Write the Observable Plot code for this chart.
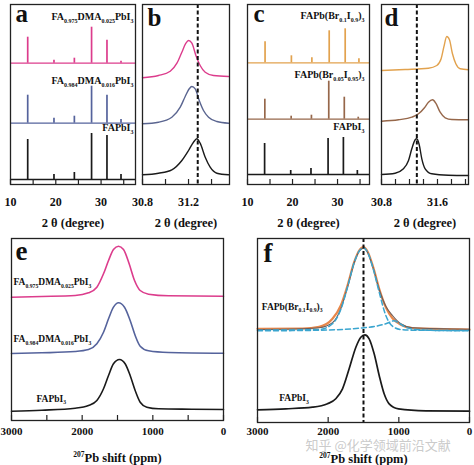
<!DOCTYPE html>
<html><head><meta charset="utf-8">
<script src="https://cdn.jsdelivr.net/npm/d3@7"></script>
<script src="https://cdn.jsdelivr.net/npm/@observablehq/plot@0.6"></script>
<style>
html,body{margin:0;padding:0;background:#fff;}
#fig{position:relative;width:474px;height:465px;overflow:hidden;background:#fff;}
#fig svg{position:absolute;left:0;top:0;}
</style></head><body><div id="fig"></div>
<script>
// ================= DATA =================
// Panel a – XRD, FA/DMA series (2θ in degrees, intensity in arbitrary units)
const aLabels = ["FA_{0.975}DMA_{0.025}PbI_{3}", "FA_{0.984}DMA_{0.016}PbI_{3}", "FAPbI_{3}"];
const aPeakPos = [13.8, 19.6, 24.1, 27.9, 31.3, 34.4];
const aHeightTop = [26, 3, 5, 36, 23, 2];
const aHeightMid = [28, 5, 7, 37, 28, 3.7];
const aHeightBot = [40, 5, 7, 46, 44, 5];
const aBaselines = [121.3, 61.3, 5];

// Panel b – zoom of the (~31.3°) peak, FA/DMA series
const bTopX = [30.80, 30.939, 31.041, 31.099, 31.142, 31.177, 31.200, 31.229, 31.264, 31.301, 31.345, 31.417, 31.548];
const bTopY = [106.7, 109, 113.3, 121.3, 132.3, 141.3, 144, 141.3, 129, 119, 112.3, 109, 108];
const bMidX = [30.80, 30.939, 31.055, 31.128, 31.171, 31.206, 31.229, 31.258, 31.293, 31.330, 31.374, 31.446, 31.548];
const bMidY = [60.7, 62.3, 67.3, 77.3, 88, 95.7, 98, 95.7, 84, 74, 67.3, 63, 61.3];
const bBotX = [30.80, 30.939, 31.055, 31.142, 31.200, 31.243, 31.272, 31.301, 31.345, 31.388, 31.446, 31.548];
const bBotY = [9.7, 11.3, 14.7, 24, 34, 42.3, 45.7, 41.3, 27.3, 17.3, 11.3, 9.7];
const bRef = [31.28];

// Panel c – XRD, Br series
const cLabels = ["FAPb(Br_{0.1}I_{0.9})_{3}", "FAPb(Br_{0.05}I_{0.95})_{3}", "FAPbI_{3}"];
const cPeakPosTop = [13.9, 19.75, 24.3, 28.15, 31.7, 34.75];
const cPeakPosMid = [13.85, 19.7, 24.2, 28.05, 31.5, 34.6];
const cPeakPosBot = [13.8, 19.6, 24.1, 27.9, 31.3, 34.4];
const cHeightTop = [21, 7, 5, 32, 34, 4];
const cHeightMid = [20, 3, 4, 38, 22, 2];
const cHeightBot = [31, 4, 6, 36, 37, 4];
const cBaselines = [121.7, 65.3, 10];

// Panel d – zoom of the (~31.3°) peak, Br series
const dTopX = [30.80, 31.138, 31.471, 31.590, 31.652, 31.690, 31.733, 31.771, 31.814, 31.862, 31.924, 32.043];
const dTopY = [114, 115, 116.3, 119, 125.7, 137.3, 148, 144.7, 130.7, 120.7, 115.7, 114.7];
const dMidX = [30.80, 31.043, 31.233, 31.329, 31.414, 31.471, 31.529, 31.576, 31.638, 31.710, 31.805, 32.043];
const dMidY = [63.3, 64.7, 67.3, 70.7, 76.7, 82.3, 84.7, 81.3, 72.3, 66.7, 65, 64.7];
const dBotX = [30.80, 30.995, 31.114, 31.186, 31.233, 31.281, 31.305, 31.338, 31.376, 31.424, 31.519, 31.757, 32.043];
const dBotY = [10, 11.3, 15.7, 24, 35.7, 44.7, 45.7, 40, 25.7, 15.7, 10.7, 9.3, 9];
const dRef = [31.305];

// Panel e – 207Pb NMR, FA/DMA series (ppm)
const eTopX = [3000, 2571, 2099, 1910, 1792, 1698, 1627, 1557, 1486, 1415, 1335, 1259, 1179, 1061, 778, 0];
const eTopY = [123.3, 124, 125, 127.7, 133.3, 146.7, 160, 171, 174.3, 171, 156.7, 140, 130, 126.3, 124.7, 124.3];
const eMidX = [3000, 2571, 2099, 1910, 1792, 1698, 1627, 1557, 1486, 1401, 1321, 1250, 1179, 1061, 778, 0];
const eMidY = [67, 67.7, 69, 71, 76.7, 88.3, 101.7, 113.3, 117.7, 113.3, 100, 85, 74.3, 69.7, 68, 67.3];
const eBotX = [3000, 2571, 2099, 1910, 1792, 1698, 1627, 1557, 1472, 1392, 1321, 1250, 1179, 1085, 920, 448, 0];
const eBotY = [9.3, 10.3, 12.3, 15, 20, 31.7, 45, 56.7, 61, 56.7, 45, 30, 18.3, 13.3, 11.7, 11.3, 11];

// Panel f – 207Pb NMR, Br series with fit components (ppm)
const fLabels = ["FAPb(Br_{0.1}I_{0.9})_{3}", "FAPbI_{3}"];
const fFitX = [3000, 2363, 2127, 1939, 1821, 1726, 1632, 1561, 1500, 1443, 1363, 1278, 1184, 1090, 972, 807, 0];
const fFitY = [93.7, 94, 95.7, 103.7, 117, 137, 160.3, 172, 175.3, 171, 155.3, 133.7, 115.3, 104.3, 97.7, 94.3, 93];
const fMeasY = [93, 93.7, 94.7, 99.7, 113.7, 135.3, 159.7, 171.3, 174.3, 170.3, 154.3, 133, 116.3, 107, 98.7, 94.7, 93.3];
const fComp1X = [3000, 2127, 1939, 1821, 1726, 1632, 1561, 1500, 1443, 1363, 1278, 1184, 1090, 972, 807, 0];
const fComp1Y = [92.3, 93, 98.7, 113, 135.3, 159.7, 171.3, 174.7, 170.3, 153.7, 130.3, 107, 96.3, 93, 92.3, 92];
const fComp2X = [3000, 2363, 1892, 1561, 1325, 1184, 1066, 1005, 901, 759, 429, 0];
const fComp2Y = [91.7, 92, 92.7, 94.3, 96.3, 98.7, 101.7, 99.7, 95.3, 93, 92, 91.7];
const fBotX = [3000, 2599, 2222, 2009, 1892, 1797, 1703, 1608, 1538, 1481, 1420, 1349, 1278, 1208, 1137, 1005, 618, 0];
const fBotY = [12.7, 13.7, 15.3, 18.7, 23.7, 33.7, 53.7, 75.3, 85.3, 87.7, 83.7, 68.7, 47, 28.7, 18.7, 13.7, 11.7, 11.3];
const fRef = [1500];

// Axis ticks
const xrdTicks = [10, 15, 20, 25, 30, 35];
const xrdTickLabels = [10, 20, 30];
const bTicks = [30.8, 31.0, 31.2, 31.4];
const bTickLabels = [30.8, 31.2];
const dTicks = [30.8, 31.0, 31.2, 31.4, 31.6, 31.8, 32.0];
const dTickLabels = [30.8, 31.6];
const eTicks = [3000, 2500, 2000, 1500, 1000, 500, 0];
const fTicks = [3000, 2000, 1000, 0];
const nmrTickLabels = [3000, 2000, 1000, 0];
const xrdTitle = "2 θ (degree)";
const nmrTitle = "^{207}Pb shift (ppm)";
const watermark = "知乎 @化学领域前沿文献";

// ================= STYLE =================
const FONT = "'Liberation Serif', 'Times New Roman', serif";
const PINK = "#dc3c8c", BLUE = "#55639c", BLACK = "#1a1a1a";
const ORANGE_T = "#e2a24e", BROWN = "#96674a";

// ================= HELPERS =================
function richify(svg) {
  svg.querySelectorAll("text").forEach(t => {
    const s = t.textContent;
    if (!/[_^]\{/.test(s)) return;
    const fs = parseFloat(getComputedStyle(t).fontSize) || 10;
    const parts = [];
    const re = /([_^])\{([^}]*)\}|([^_^]+)/g;
    let m;
    while ((m = re.exec(s))) parts.push(m[3] != null ? {t: m[3], k: 0} : {t: m[2], k: m[1] === "_" ? 1 : -1});
    t.textContent = "";
    let shift = 0;
    for (const p of parts) {
      const ts = document.createElementNS("http://www.w3.org/2000/svg", "tspan");
      const target = p.k === 1 ? fs * 0.3 : p.k === -1 ? -fs * 0.4 : 0;
      ts.setAttribute("dy", (target - shift).toFixed(2));
      if (p.k) ts.setAttribute("font-size", (fs * 0.6).toFixed(2));
      shift = target;
      ts.textContent = p.t;
      t.appendChild(ts);
    }
  });
}

function render({L, R, T, B, xDomain, yDomain, marks}) {
  const svg = Plot.plot({
    width: 474, height: 465,
    marginLeft: L, marginRight: 474 - R, marginTop: T, marginBottom: 465 - B,
    x: {domain: xDomain},
    y: {domain: yDomain, axis: null},
    style: {background: "transparent", overflow: "visible", fontFamily: FONT, fontWeight: "bold", color: "#111"},
    marks
  });
  document.getElementById("fig").appendChild(svg);
  richify(svg);
}

function xAxis(ticks, labels, fmt, pad, fs, innerH) {
  return [
    Plot.ruleX(ticks, {x: d => d, insetTop: innerH - 5, stroke: "#222", strokeWidth: 1.2}),
    Plot.axisX({ticks: labels, tickSize: 0, tickPadding: pad, tickFormat: fmt, fontSize: fs, label: null})
  ];
}

function xrd(domain, baseline, pos, heights, color) {
  const peaks = pos.map((p, i) => ({x: p, y1: baseline, y2: baseline + heights[i]}));
  return [
    Plot.ruleY([baseline], {x1: domain[0], x2: domain[1], stroke: color, strokeWidth: 1.3}),
    Plot.ruleX(peaks, {x: "x", y1: "y1", y2: "y2", stroke: color, strokeWidth: 1.7})
  ];
}

function curve(xs, ys, color, opts = {}) {
  return Plot.line(xs.map((x, i) => ({x, y: ys[i]})), {x: "x", y: "y", stroke: color, strokeWidth: 1.4, curve: "monotone-x", ...opts});
}

function label(text, anchor, dx, dy, opts = {}) {
  return Plot.text([text], {frameAnchor: anchor, dx, dy, text: d => d, lineAnchor: "middle",
    textAnchor: anchor.endsWith("right") ? "end" : anchor.endsWith("left") ? "start" : "middle",
    fontSize: 10, fill: "#111", ...opts});
}

const frame = () => Plot.frame({stroke: "#222", strokeWidth: 1.3});
const fmtInt = d => String(d);
const fmt1 = d => d.toFixed(1);

// ================= PANEL a =================
const aDom = [10, 37.6];
render({L: 10, R: 135, T: 4, B: 184, xDomain: aDom, yDomain: [0, 180], marks: [
  ...xrd(aDom, aBaselines[0], aPeakPos, aHeightTop, PINK),
  ...xrd(aDom, aBaselines[1], aPeakPos, aHeightMid, BLUE),
  ...xrd(aDom, aBaselines[2], aPeakPos, aHeightBot, BLACK),
  frame(),
  ...xAxis(xrdTicks, xrdTickLabels, fmtInt, 13, 12, 180),
  label("a", "top-left", 5, 9, {fontSize: 25}),
  label(aLabels[0], "top-right", -2, 12.7),
  label(aLabels[1], "top-right", -2, 76),
  label(aLabels[2], "top-right", -2, 123.7),
  label(xrdTitle, "bottom", 0, 38, {fontSize: 12.5})
]});

// ================= PANEL b =================
render({L: 142, R: 229, T: 4, B: 184, xDomain: [30.8, 31.556], yDomain: [0, 180], marks: [
  curve(bTopX, bTopY, PINK),
  curve(bMidX, bMidY, "#5a6590"),
  curve(bBotX, bBotY, BLACK),
  Plot.ruleX(bRef, {stroke: "#111", strokeWidth: 2, strokeDasharray: "4,2.5"}),
  frame(),
  ...xAxis(bTicks, bTickLabels, fmt1, 13, 12, 180),
  label("b", "top-left", 5, 13, {fontSize: 25}),
  label(xrdTitle, "bottom", 0, 38, {fontSize: 12.5})
]});

// ================= PANEL c =================
const cDom = [10, 37.1];
render({L: 247, R: 369, T: 4, B: 184, xDomain: cDom, yDomain: [0, 180], marks: [
  ...xrd(cDom, cBaselines[0], cPeakPosTop, cHeightTop, ORANGE_T),
  ...xrd(cDom, cBaselines[1], cPeakPosMid, cHeightMid, BROWN),
  ...xrd(cDom, cBaselines[2], cPeakPosBot, cHeightBot, BLACK),
  frame(),
  ...xAxis(xrdTicks, xrdTickLabels, fmtInt, 13, 12, 180),
  label("c", "top-left", 6, 9.5, {fontSize: 25}),
  label(cLabels[0], "top-right", -5, 11),
  label(cLabels[1], "top-right", -5, 70),
  label(cLabels[2], "top-right", -5, 122),
  label(xrdTitle, "bottom", 0, 38, {fontSize: 12.5})
]});

// ================= PANEL d =================
render({L: 381, R: 468, T: 4, B: 184, xDomain: [30.8, 32.043], yDomain: [0, 180], marks: [
  curve(dTopX, dTopY, ORANGE_T),
  curve(dMidX, dMidY, BROWN),
  curve(dBotX, dBotY, BLACK),
  Plot.ruleX(dRef, {stroke: "#111", strokeWidth: 2, strokeDasharray: "4,2.5"}),
  frame(),
  ...xAxis(dTicks, dTickLabels, fmt1, 13, 12, 180),
  label("d", "top-left", 3, 13.5, {fontSize: 25}),
  label(xrdTitle, "bottom", 0, 38, {fontSize: 12.5})
]});

// ================= PANEL e =================
render({L: 11, R: 223, T: 238, B: 420, xDomain: [3000, 0], yDomain: [0, 182], marks: [
  curve(eTopX, eTopY, PINK, {strokeWidth: 1.6}),
  curve(eMidX, eMidY, BLUE, {strokeWidth: 1.6}),
  curve(eBotX, eBotY, BLACK, {strokeWidth: 1.6}),
  frame(),
  ...xAxis(eTicks, nmrTickLabels, fmtInt, 7, 11, 182),
  label("e", "top-left", 4, 13, {fontSize: 27}),
  label(aLabels[0], "top-left", 2, 43.7, {fontSize: 9.5}),
  label(aLabels[1], "top-left", 2, 100.3, {fontSize: 9.5}),
  label(aLabels[2], "top-left", 25, 160, {fontSize: 9.5}),
  label(nmrTitle, "bottom", 0, 37, {fontSize: 12.5})
]});

// ================= PANEL f =================
render({L: 257, R: 469, T: 238, B: 422, xDomain: [3000, 0], yDomain: [0, 184], marks: [
  curve(fFitX, fFitY, "#e8874a", {strokeWidth: 2.2}),
  curve(fFitX, fMeasY, "#6e5e5a", {strokeWidth: 1.1}),
  curve(fComp1X, fComp1Y, "#3aa5cf", {strokeWidth: 1.5, strokeDasharray: "5,3"}),
  curve(fComp2X, fComp2Y, "#3aa5cf", {strokeWidth: 1.5, strokeDasharray: "5,3"}),
  curve(fBotX, fBotY, BLACK, {strokeWidth: 1.7}),
  Plot.ruleX(fRef, {stroke: "#111", strokeWidth: 2, strokeDasharray: "4,2.5"}),
  frame(),
  ...xAxis(fTicks, nmrTickLabels, fmtInt, 5, 11, 184),
  label("f", "top-left", 6, 15, {fontSize: 27}),
  label(fLabels[0], "top-left", 4.3, 68, {fontSize: 9.5}),
  label(fLabels[1], "top-left", 21.7, 159.7, {fontSize: 9.5}),
  label(nmrTitle, "bottom", 0, 36, {fontSize: 12.5}),
  label(watermark, "bottom-left", 48, 23.5, {fontSize: 13, fontFamily: "'Noto Sans CJK SC', sans-serif", fontWeight: "normal", fill: "#c4c4c4", fillOpacity: 0.9})
]});
</script></body></html>
